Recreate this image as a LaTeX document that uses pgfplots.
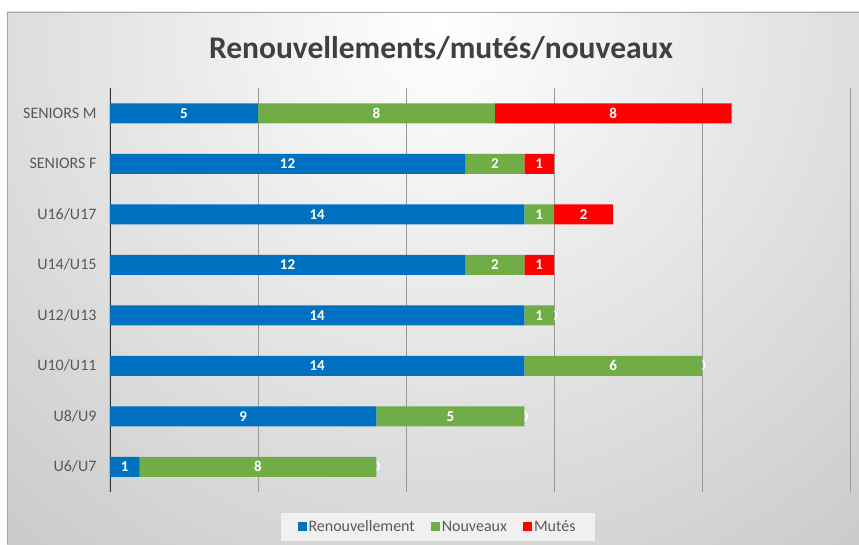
\documentclass[border=0pt]{standalone}
\usepackage{pgfplots}
\pgfplotsset{compat=1.18}
\usepackage{fontspec}
\setmainfont{Carlito}
\definecolor{cblue}{HTML}{0070C0}
\definecolor{cgreen}{HTML}{70AD47}
\definecolor{cred}{HTML}{FF0000}
\definecolor{ctext}{HTML}{595959}
\definecolor{ctitle}{HTML}{404040}
\pgfdeclarelayer{background}
\pgfsetlayers{background,main}
\tikzset{zerolbl/.style={text=white, font=\fontsize{15}{17}\selectfont\bfseries}}
\begin{document}
\begin{tikzpicture}
\begin{axis}[
  name=ax,
  scale only axis, width=740pt, height=404pt,
  xbar stacked, bar width=20pt,
  xmin=0, xmax=25, ymin=-0.5, ymax=7.5,
  xtick={0,5,...,25}, xticklabels={},
  ytick={0,...,7},
  yticklabels={U6/U7,U8/U9,U10/U11,U12/U13,U14/U15,U16/U17,SENIORS F,SENIORS M},
  yticklabel style={text=ctext, font=\fontsize{16}{18}\selectfont, xshift=-10pt},
  ytick style={draw=none}, xtick style={draw=none},
  xmajorgrids, major grid style={black!40, line width=0.8pt},
  axis line style={draw=none},
  /pgf/number format/assume math mode=true,
  nodes near coords,
  every node near coord/.append style={anchor=center, text=white,
     font=\fontsize{15}{17}\selectfont\bfseries},
  legend columns=3,
  legend style={at={(0.4426,-0.0866)}, anchor=center, fill=black!6, draw=none,
     font=\fontsize{16}{18}\selectfont, text=ctext, inner ysep=6pt, inner xsep=17pt,
     /tikz/every even column/.append style={column sep=14pt}},
  legend image code/.code={\fill[#1,draw=none] (0pt,-4.5pt) rectangle (9pt,4.5pt);},
]
\addplot[fill=cblue, draw=none] coordinates {(1,0) (9,1) (14,2) (14,3) (12,4) (14,5) (12,6) (5,7)};
\addplot[fill=cgreen, draw=none] coordinates {(8,0) (5,1) (6,2) (1,3) (2,4) (1,5) (2,6) (8,7)};
\addplot[fill=cred, draw=none] coordinates {(0,0) (0,1) (0,2) (0,3) (1,4) (2,5) (1,6) (8,7)};
\legend{Renouvellement,Nouveaux,Mutés}
\draw[black!80, line width=1.2pt] (axis cs:0,-0.5) -- (axis cs:0,7.5);
\node[zerolbl] at (axis cs:9,0) {0};
\node[zerolbl] at (axis cs:14,1) {0};
\node[zerolbl] at (axis cs:20,2) {0};
\node[zerolbl] at (axis cs:15,3) {0};
\end{axis}
\begin{scope}[shift={(ax.south west)}, x=1pt, y=1pt]
\begin{pgfonlayer}{background}
\begin{scope}
\clip (-103,-52) rectangle (749,480);
\shade[inner color=white, outer color=black!22] (330,468) circle (720);
\end{scope}
\draw[black!35, line width=0.8pt] (-103,-52) -- (-103,480) -- (749,480);
\end{pgfonlayer}
\node[text=ctitle, font=\fontsize{31.5}{36}\selectfont\bfseries] at (331,444) {Renouvellements/mutés/nouveaux};
\pgfresetboundingbox
\useasboundingbox (-110,-52) rectangle (749,492);
\end{scope}
\end{tikzpicture}
\end{document}
